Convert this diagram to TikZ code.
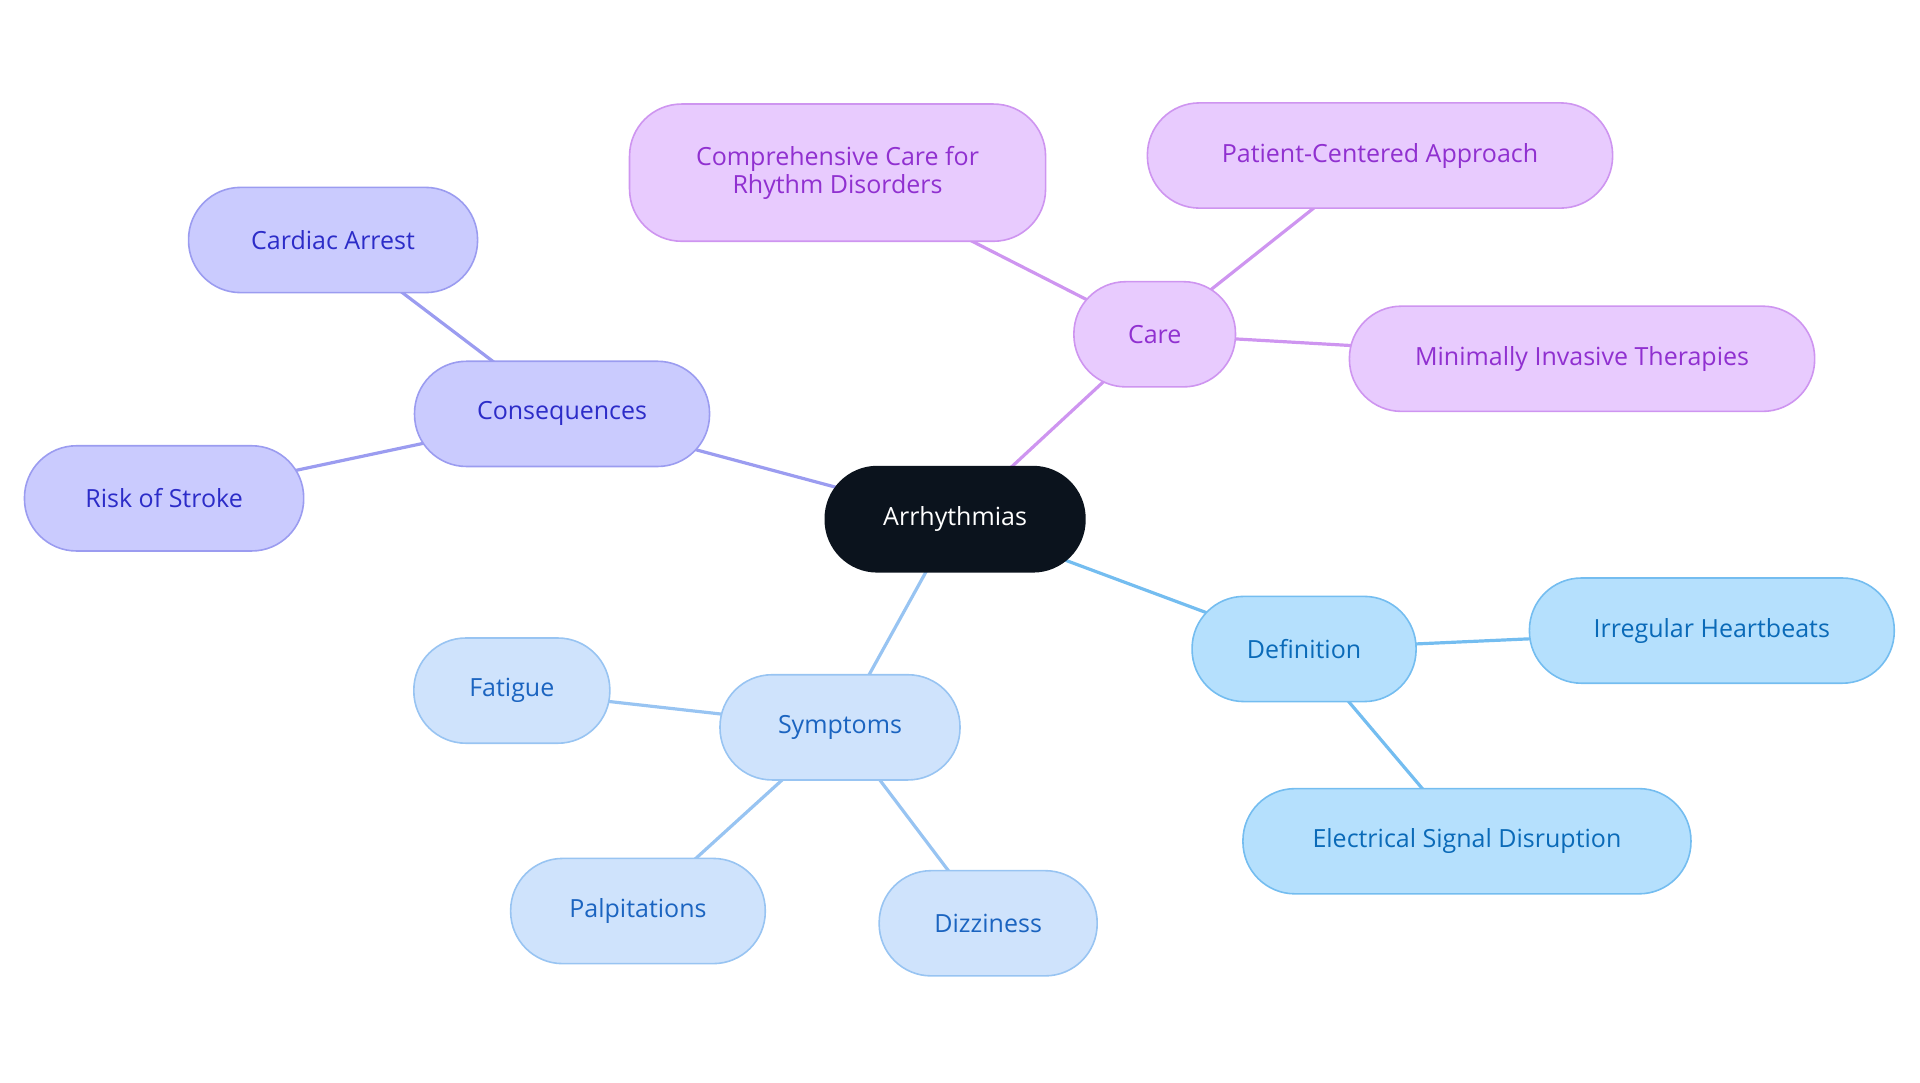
\documentclass[tikz,border=0pt]{standalone}
\usepackage{fontspec}
\setmainfont{Open Sans}
\usetikzlibrary{backgrounds}
\definecolor{cF}{HTML}{CACBFE}\definecolor{cS}{HTML}{9B9CF0}\definecolor{cT}{HTML}{2C2CC8}
\definecolor{rF}{HTML}{E8CBFE}\definecolor{rS}{HTML}{CE95F0}\definecolor{rT}{HTML}{9030D0}
\definecolor{dF}{HTML}{B5E0FD}\definecolor{dS}{HTML}{74BDF0}\definecolor{dT}{HTML}{0A6AB8}
\definecolor{sF}{HTML}{CFE3FC}\definecolor{sS}{HTML}{98C4F2}\definecolor{sT}{HTML}{1B64C0}
\definecolor{root}{HTML}{0B131D}
\begin{document}
\begin{tikzpicture}[x=0.6122pt,y=-0.6122pt,
 box/.style={draw,line width=0.8pt,rounded corners=26pt,minimum height=52.6pt,align=center,font=\fontsize{12.5}{14}\selectfont,inner sep=0pt},
 con/.style={box,fill=cF,draw=cS,text=cT}, car/.style={box,fill=rF,draw=rS,text=rT},
 def/.style={box,fill=dF,draw=dS,text=dT}, sym/.style={box,fill=sF,draw=sS,text=sT},
 e/.style={line width=1.6pt}]
\useasboundingbox (0,0) rectangle (1568,884);
\node[box,fill=root,draw=root,text=white,minimum width=129.8pt] (a) at (780,424) {Arrhythmias};
\node[con,minimum width=147.5pt] (c) at (459,338) {Consequences};
\node[con,minimum width=144.5pt] (c1) at (272,196) {Cardiac Arrest};
\node[con,minimum width=139.6pt] (c2) at (134,407) {Risk of Stroke};
\node[car,minimum width=80.8pt] (r) at (943,273) {Care};
\node[car,minimum width=208pt,minimum height=68.6pt] (r1) at (684,141) {Comprehensive Care for\\Rhythm Disorders};
\node[car,minimum width=232.6pt] (r2) at (1127,127) {Patient-Centered Approach};
\node[car,minimum width=232.6pt] (r3) at (1292,293) {Minimally Invasive Therapies};
\node[def,minimum width=112pt] (d) at (1065,530) {Definition};
\node[def,minimum width=182.4pt] (d1) at (1398,515) {Irregular Heartbeats};
\node[def,minimum width=224pt] (d2) at (1198,687) {Electrical Signal Disruption};
\node[sym,minimum width=120pt] (s) at (686,594) {Symptoms};
\node[sym,minimum width=98pt] (s1) at (418,564) {Fatigue};
\node[sym,minimum width=127.3pt] (s2) at (521,744) {Palpitations};
\node[sym,minimum width=109pt] (s3) at (807,754) {Dizziness};
\begin{scope}[on background layer]
\draw[e,cS] (a.center)--(c.center) (c.center)--(c1.center) (c.center)--(c2.center);
\draw[e,rS] (a.center)--(r.center) (r.center)--(r1.center) (r.center)--(r2.center) (r.center)--(r3.center);
\draw[e,dS] (a.center)--(d.center) (d.center)--(d1.center) (d.center)--(d2.center);
\draw[e,sS] (a.center)--(s.center) (s.center)--(s1.center) (s.center)--(s2.center) (s.center)--(s3.center);
\end{scope}
\end{tikzpicture}
\end{document}
